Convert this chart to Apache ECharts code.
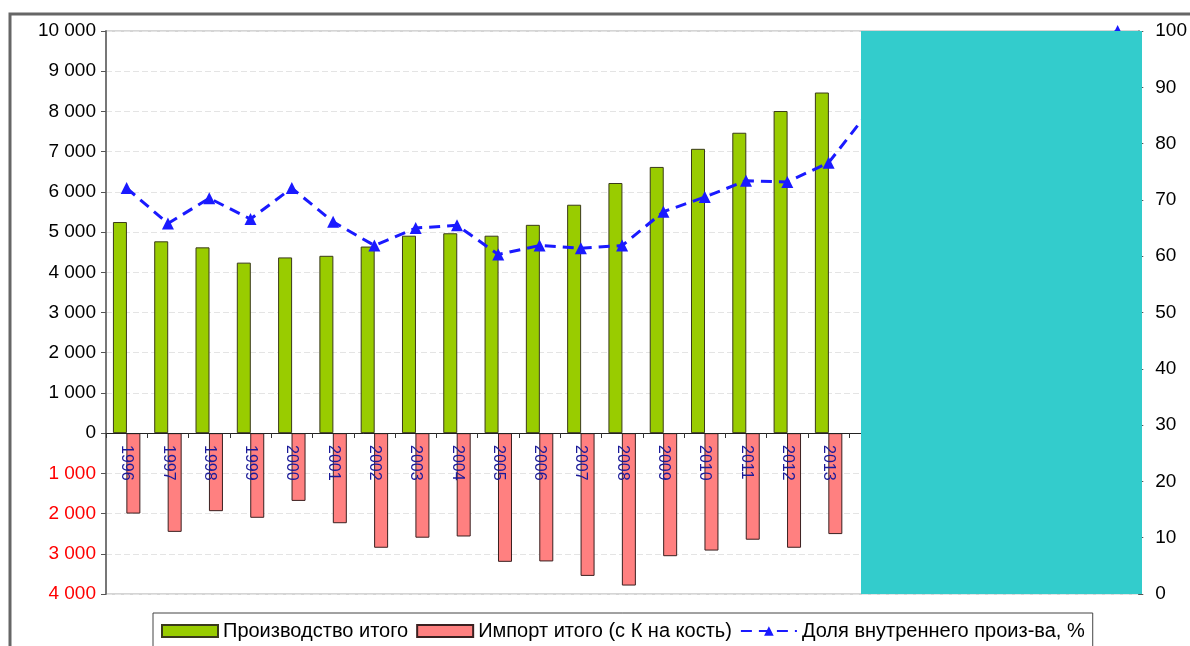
<!DOCTYPE html>
<html lang="ru">
<head>
    <meta charset="UTF-8">
    <title></title>
    <style type="text/css">
        html,
        body,
        .canvas {
            padding: 0;
            margin: 0;
            overflow: hidden;
            background-color: #fff;
            width: 100%;
            height: 100%;
        }
    </style>
</head>
<body>
<div class="canvas" id="chart"></div>
<script type="text/javascript" src="https://cdn.jsdelivr.net/npm/echarts@6/dist/echarts.min.js"></script>
<script>
    // годы (после 2013 закрыто прямоугольником)
    const years = ['1996', '1997', '1998', '1999', '2000', '2001', '2002', '2003', '2004',
        '2005', '2006', '2007', '2008', '2009', '2010', '2011', '2012', '2013',
        '2014', '2015', '2016', '2017', '2018', '2019', '2020'];
    const production = [5250, 4770, 4620, 4240, 4370, 4410, 4640, 4910, 4970,
        4910, 5180, 5680, 6220, 6620, 7070, 7470, 8010, 8470];
    const imports = [2000, 2455, 1940, 2105, 1685, 2240, 2850, 2600, 2570,
        3200, 3190, 3550, 3790, 3060, 2920, 2650, 2850, 2510];
    const share = [72.1, 65.8, 70.3, 66.6, 72.1, 66.1, 61.9, 65.0, 65.5,
        60.3, 61.9, 61.4, 61.9, 67.9, 70.5, 73.4, 73.2, 76.6,
        86, null, null, null, null, null, 100];
    const seriesNames = ['Производство итого', 'Импорт итого (с К на кость)', 'Доля внутреннего произ-ва, %'];

    const font = '"Liberation Sans", Arial, sans-serif';

    function fmt(v) {
        return String(Math.abs(v)).replace(/\B(?=(\d{3})+(?!\d))/g, ' ');
    }

    const chart = echarts.init(document.getElementById('chart'), null, {renderer: 'canvas'});

    chart.setOption({
        animation: false,
        textStyle: {fontFamily: font},
        grid: {
            left: 106, right: 48, top: 31, bottom: 52,
            show: true, borderColor: '#aaa', borderWidth: 1
        },
        legend: {
            left: 153, top: 613,
            backgroundColor: '#fff',
            borderColor: '#444', borderWidth: 1,
            padding: [8, 8, 10, 8],
            itemWidth: 56, itemHeight: 12, itemGap: 8,
            textStyle: {fontSize: 20, color: '#000', fontFamily: font},
            data: [
                {name: seriesNames[0], icon: 'rect'},
                {name: seriesNames[1], icon: 'rect'},
                {name: seriesNames[2]}
            ]
        },
        xAxis: {
            type: 'category',
            data: years,
            // ось проходит по нулю левой шкалы, подписи поверх столбцов
            offset: -161,
            z: 4,
            axisLine: {onZero: false, lineStyle: {color: '#222', width: 1}},
            axisTick: {show: true, length: 5, lineStyle: {color: '#333'}},
            axisLabel: {
                rotate: -90, margin: 12, interval: 0,
                fontSize: 16, color: '#1a1a99', fontFamily: font
            },
            splitLine: {show: false}
        },
        yAxis: [{
            type: 'value',
            min: -4000, max: 10000, interval: 1000,
            axisLine: {show: true, lineStyle: {color: '#777', width: 2}},
            axisTick: {show: true, length: 5, lineStyle: {color: '#555'}},
            axisLabel: {
                fontSize: 19, margin: 10, fontFamily: font,
                formatter: fmt,
                color: function (v) { return Number(v) < 0 ? '#ff0000' : '#000'; }
            },
            splitLine: {lineStyle: {color: '#e4e4e4', type: [6, 3]}}
        }, {
            type: 'value',
            min: 0, max: 100, interval: 10,
            axisLine: {show: true, lineStyle: {color: '#888', width: 2}},
            axisTick: {show: true, length: 5, lineStyle: {color: '#555'}},
            axisLabel: {fontSize: 19, margin: 17, color: '#000', fontFamily: font},
            splitLine: {show: false}
        }],
        series: [{
            name: seriesNames[0],
            type: 'bar',
            data: production,
            barWidth: 14,
            barGap: '-4%',
            itemStyle: {color: '#99cc00', borderColor: '#3a3a1a', borderWidth: 1}
        }, {
            name: seriesNames[1],
            type: 'bar',
            data: imports.map(function (v) { return -v; }),
            barWidth: 14,
            itemStyle: {color: '#ff8080', borderColor: '#3a2020', borderWidth: 1}
        }, {
            name: seriesNames[2],
            type: 'line',
            yAxisIndex: 1,
            data: share,
            connectNulls: true,
            symbol: 'triangle',
            symbolSize: 12,
            z: 5,
            lineStyle: {color: '#1a1aff', width: 3, type: [11, 7]},
            itemStyle: {color: '#1a1aff'}
        }],
        graphic: [{
            type: 'rect',
            z: 100,
            shape: {x: 861, y: 31, width: 281, height: 563},
            style: {fill: '#33cccc'}
        }, {
            type: 'rect',
            z: 100,
            silent: true,
            shape: {x: 10, y: 14, width: 1200, height: 700},
            style: {fill: 'none', stroke: '#666', lineWidth: 3}
        }]
    });
</script>
</body>
</html>
